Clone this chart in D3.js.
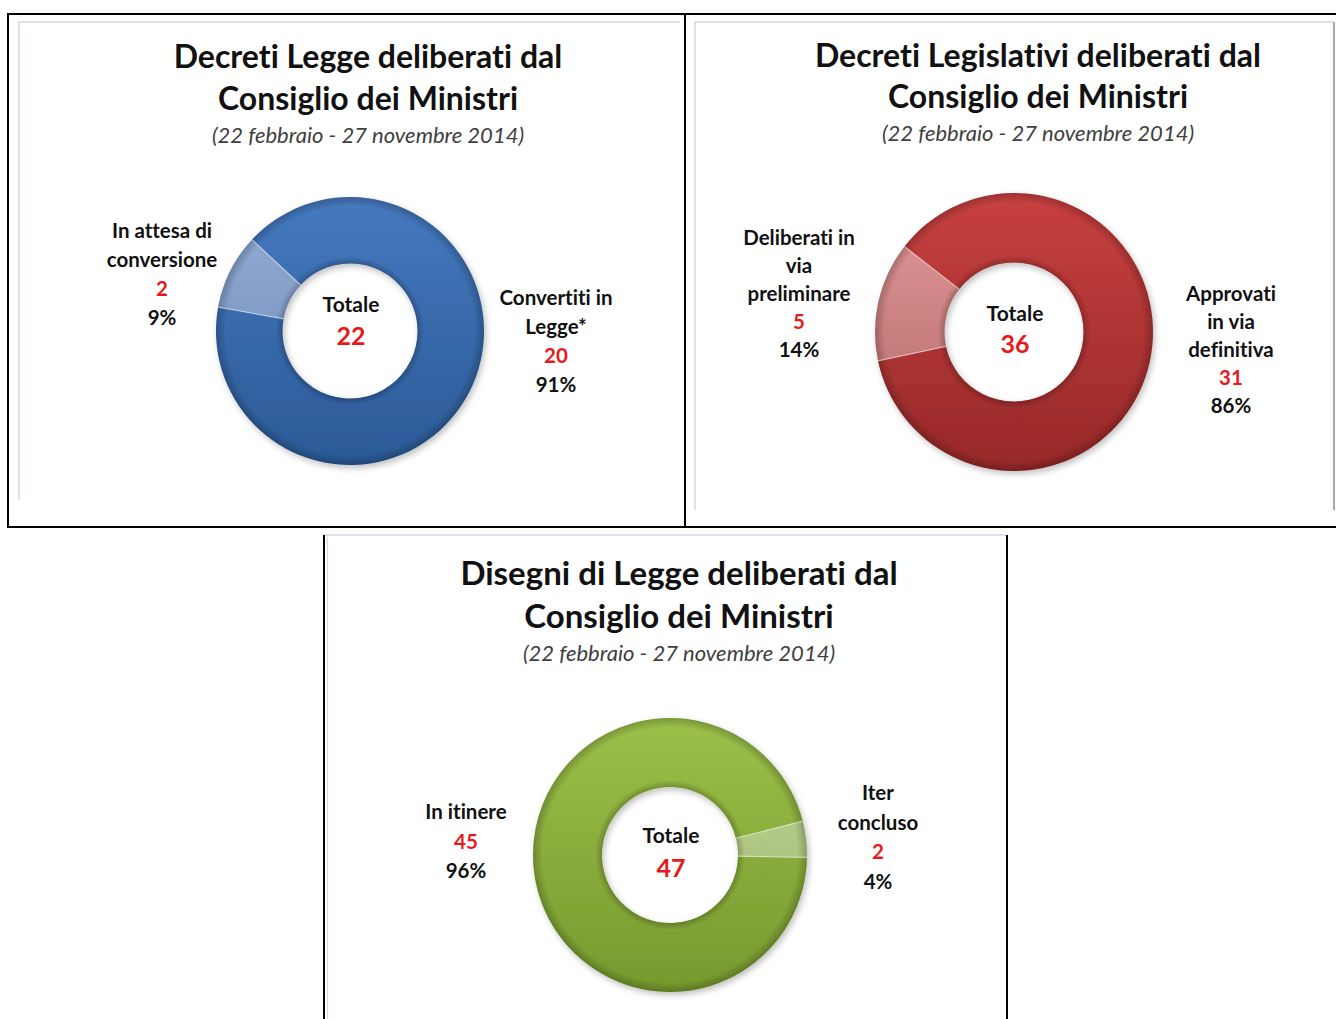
<!DOCTYPE html>
<html>
<head>
<meta charset="utf-8">
<script src="https://cdn.jsdelivr.net/npm/d3@7"></script>
<style>
  html, body { margin: 0; padding: 0; background: #ffffff; }
  svg { display: block; }
  text { font-family: Lato, "Open Sans", "DejaVu Sans", sans-serif;
         font-variant-ligatures: none; font-feature-settings: "liga" 0, "clig" 0; }
</style>
</head>
<body>
<script>
// ---------- DATA ----------
const subtitleText = "(22 febbraio - 27 novembre 2014)";
const centerLabel = "Totale";

const dlTitle = ["Decreti Legge deliberati dal", "Consiglio dei Ministri"];
const dlCategories = [["Convertiti in", "Legge*"], ["In attesa di", "conversione"]];
const dlValues = [20, 2];

const dlgsTitle = ["Decreti Legislativi deliberati dal", "Consiglio dei Ministri"];
const dlgsCategories = [["Approvati", "in via", "definitiva"], ["Deliberati in", "via", "preliminare"]];
const dlgsValues = [31, 5];

const ddlTitle = ["Disegni di Legge deliberati dal", "Consiglio dei Ministri"];
const ddlCategories = [["In itinere"], ["Iter", "concluso"]];
const ddlValues = [45, 2];

// ---------- LAYOUT ----------
const W = 1336, H = 1019;
const deg = Math.PI / 180;
const panels = [
  { id: "dl", title: dlTitle, cats: dlCategories, vals: dlValues,
    titleX: 368, titleY: [68, 110, 143], titleSize: 32,
    cx: 350, cy: 331, rOut: 134, rIn: 67.5, start: 313,
    colors: [["#4579bf", "#2b5996"], ["#95add4", "#6a88b8"]],
    labels: [{ x: 556, y: 305, dy: 29 }, { x: 162, y: 238, dy: 29 }],
    cTot: 312, cNum: 345 },
  { id: "dlgs", title: dlgsTitle, cats: dlgsCategories, vals: dlgsValues,
    titleX: 1038, titleY: [67, 108, 141], titleSize: 32,
    cx: 1014, cy: 332, rOut: 139, rIn: 69.5, start: 308,
    colors: [["#c84040", "#962828"], ["#e39a9a", "#b26565"]],
    labels: [{ x: 1231, y: 301, dy: 28 }, { x: 799, y: 245, dy: 28 }],
    cTot: 321, cNum: 353 },
  { id: "ddl", title: ddlTitle, cats: ddlCategories, vals: ddlValues,
    titleX: 679, titleY: [585, 628, 661], titleSize: 33,
    cx: 670, cy: 855, rOut: 137, rIn: 68, start: 91,
    colors: [["#9cc049", "#76992e"], ["#c6da9f", "#95b262"]],
    labels: [{ x: 466, y: 819, dy: 29.5 }, { x: 878, y: 800, dy: 29.5 }],
    cTot: 843, cNum: 877 }
];

const svg = d3.select("body").append("svg")
  .attr("width", W).attr("height", H).attr("viewBox", `0 0 ${W} ${H}`);
svg.append("rect").attr("width", W).attr("height", H).attr("fill", "#ffffff");

const defs = svg.append("defs");
const shadow = defs.append("filter").attr("id", "shadow")
  .attr("x", "-20%").attr("y", "-20%").attr("width", "140%").attr("height", "140%");
shadow.append("feDropShadow").attr("dx", 2).attr("dy", 3).attr("stdDeviation", 3)
  .attr("flood-color", "#000").attr("flood-opacity", 0.25);

// ---------- FRAMES ----------
const frame = svg.append("g");
const gray = "#d3d9e4";
frame.append("path").attr("d", "M19,500 V22 H680").attr("fill", "none").attr("stroke", gray).attr("stroke-width", 1.5);
frame.append("path").attr("d", "M695,510 V22 H1334").attr("fill", "none").attr("stroke", gray).attr("stroke-width", 1.5);
frame.append("path").attr("d", "M1334,22 V510").attr("fill", "none").attr("stroke", "#a8a8a8").attr("stroke-width", 2);
frame.append("path").attr("d", "M324,535 H1007").attr("fill", "none").attr("stroke", gray).attr("stroke-width", 1.5);
frame.append("path").attr("d", "M327.5,537 V1019").attr("fill", "none").attr("stroke", gray).attr("stroke-width", 1.2);
frame.append("path").attr("d", "M8,14 H1336 M8,527 H1336 M8,13 V528 M685,14 V527 M324,535 V1019 M1007,535 V1019")
  .attr("fill", "none").attr("stroke", "#000").attr("stroke-width", 2);

// ---------- CHARTS ----------
panels.forEach(p => {
  const g = svg.append("g");
  const total = d3.sum(p.vals);

  // titles
  g.selectAll("text.title").data(p.title).join("text")
    .attr("class", "title")
    .attr("x", p.titleX).attr("y", (d, i) => p.titleY[i])
    .attr("text-anchor", "middle")
    .attr("font-size", p.titleSize).attr("font-weight", 700).attr("fill", "#111")
    .text(d => d);
  g.append("text")
    .attr("x", p.titleX).attr("y", p.titleY[2])
    .attr("text-anchor", "middle")
    .attr("font-size", 22).attr("font-style", "italic").attr("fill", "#404040")
    .text(subtitleText);

  // gradients
  p.colors.forEach((c, i) => {
    const lg = defs.append("linearGradient").attr("id", `grad-${p.id}-${i}`)
      .attr("gradientUnits", "userSpaceOnUse")
      .attr("x1", 0).attr("y1", -p.rOut).attr("x2", 0).attr("y2", p.rOut);
    lg.append("stop").attr("offset", 0).attr("stop-color", c[0]);
    lg.append("stop").attr("offset", 1).attr("stop-color", c[1]);
  });
  const rg = defs.append("radialGradient").attr("id", `bevel-${p.id}`)
    .attr("gradientUnits", "userSpaceOnUse")
    .attr("cx", 0).attr("cy", 0).attr("r", p.rOut);
  const f = p.rIn / p.rOut;
  [[f, 0.22], [f + 0.05, 0.0], [0.93, 0.0], [1.0, 0.22]].forEach(([o, a]) =>
    rg.append("stop").attr("offset", o).attr("stop-color", "#000").attr("stop-opacity", a));

  const pie = d3.pie().sort(null).value(d => d)
    .startAngle(p.start * deg).endAngle(p.start * deg + 2 * Math.PI);
  const arc = d3.arc().innerRadius(p.rIn).outerRadius(p.rOut);
  const arcs = pie(p.vals);

  const dg = g.append("g").attr("transform", `translate(${p.cx},${p.cy})`);
  dg.append("g").attr("filter", "url(#shadow)")
    .selectAll("path.slice").data(arcs).join("path")
    .attr("class", "slice")
    .attr("d", arc)
    .attr("fill", (d, i) => `url(#grad-${p.id}-${i})`);
  // bevel overlay
  dg.append("circle").attr("r", (p.rOut + p.rIn) / 2)
    .attr("fill", "none").attr("stroke", `url(#bevel-${p.id})`).attr("stroke-width", p.rOut - p.rIn);
  // slice separators
  dg.selectAll("line.sep").data(arcs).join("line")
    .attr("class", "sep")
    .attr("x1", d => p.rIn * Math.sin(d.startAngle))
    .attr("y1", d => -p.rIn * Math.cos(d.startAngle))
    .attr("x2", d => p.rOut * Math.sin(d.startAngle))
    .attr("y2", d => -p.rOut * Math.cos(d.startAngle))
    .attr("stroke", "#ffffff").attr("stroke-opacity", 0.45).attr("stroke-width", 1.2);

  // center labels
  g.append("text").attr("x", p.cx + 1).attr("y", p.cTot).attr("text-anchor", "middle")
    .attr("font-size", 21).attr("font-weight", 700).attr("fill", "#111").text(centerLabel);
  g.append("text").attr("x", p.cx + 1).attr("y", p.cNum).attr("text-anchor", "middle")
    .attr("font-size", 25).attr("font-weight", 700).attr("fill", "#e8191b").text(total);

  // category labels
  p.cats.forEach((lines, i) => {
    const L = p.labels[i];
    const rows = lines.map(t => ({ t, c: "#111" }))
      .concat([{ t: String(p.vals[i]), c: "#e8191b" },
               { t: Math.round(p.vals[i] / total * 100) + "%", c: "#111" }]);
    g.selectAll(null).data(rows).join("text")
      .attr("x", L.x).attr("y", (d, k) => L.y + k * L.dy)
      .attr("text-anchor", "middle")
      .attr("font-size", 20.5).attr("font-weight", 700)
      .attr("fill", d => d.c)
      .text(d => d.t);
  });
});
</script>
</body>
</html>
